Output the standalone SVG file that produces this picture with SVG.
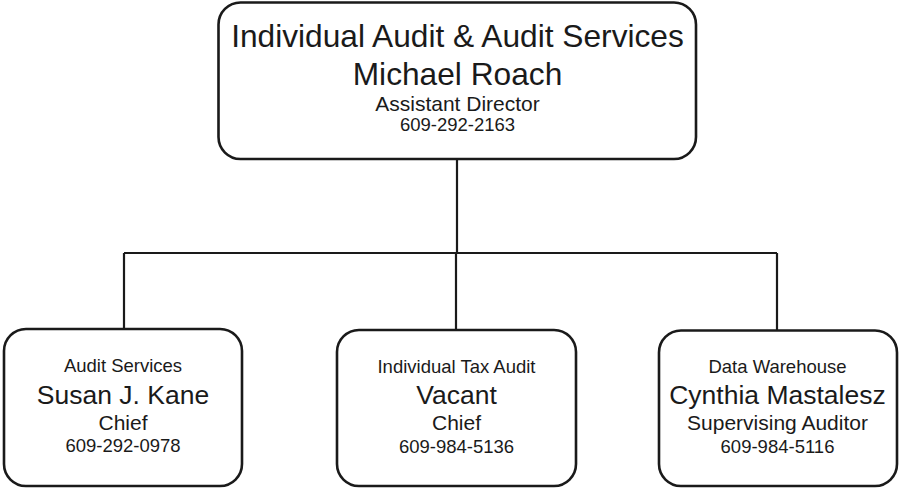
<svg xmlns="http://www.w3.org/2000/svg" width="899" height="489" viewBox="0 0 899 489">
<style>
.box{fill:#fff;stroke:#1a1a1a;stroke-width:2.6}
.conn{fill:none;stroke:#1a1a1a;stroke-width:2.2}
text{font-family:"Liberation Sans",Arial,sans-serif;fill:#1a1a1a;text-anchor:middle}
.big{font-size:31.7px}
.name{font-size:26.5px}
.role{font-size:21px}
.small{font-size:18.5px}
</style>
<rect width="899" height="489" fill="#fff"/>
<g id="connectors">
<path class="conn" d="M457 159 V253 M124 253 H777 M124 253 V329 M456 253 V330 M777 253 V330"/>
</g>
<g id="top">
<rect class="box" x="218.5" y="2.5" width="477.5" height="156.5" rx="22"/>
<text class="big" x="457.5" y="46.7">Individual Audit &amp; Audit Services</text>
<text class="big" x="457.5" y="85">Michael Roach</text>
<text class="role" x="457.5" y="111">Assistant Director</text>
<text class="small" x="457.5" y="131">609-292-2163</text>
</g>
<g id="audit-services">
<rect class="box" x="4" y="329" width="238" height="157" rx="22"/>
<text class="small" x="123" y="372">Audit Services</text>
<text class="name" x="123" y="404">Susan J. Kane</text>
<text class="role" x="123" y="429.5">Chief</text>
<text class="small" x="123" y="452">609-292-0978</text>
</g>
<g id="individual-tax">
<rect class="box" x="337" y="330" width="239" height="156" rx="22"/>
<text class="small" x="456.5" y="372.5">Individual Tax Audit</text>
<text class="name" x="456.5" y="404">Vacant</text>
<text class="role" x="456.5" y="430">Chief</text>
<text class="small" x="456.5" y="452.5">609-984-5136</text>
</g>
<g id="data-warehouse">
<rect class="box" x="659" y="330.5" width="238" height="155.5" rx="22"/>
<text class="small" x="777.5" y="372.5">Data Warehouse</text>
<text class="name" x="777.5" y="404">Cynthia Mastalesz</text>
<text class="role" x="777.5" y="430">Supervising Auditor</text>
<text class="small" x="777.5" y="452.5">609-984-5116</text>
</g>
</svg>
